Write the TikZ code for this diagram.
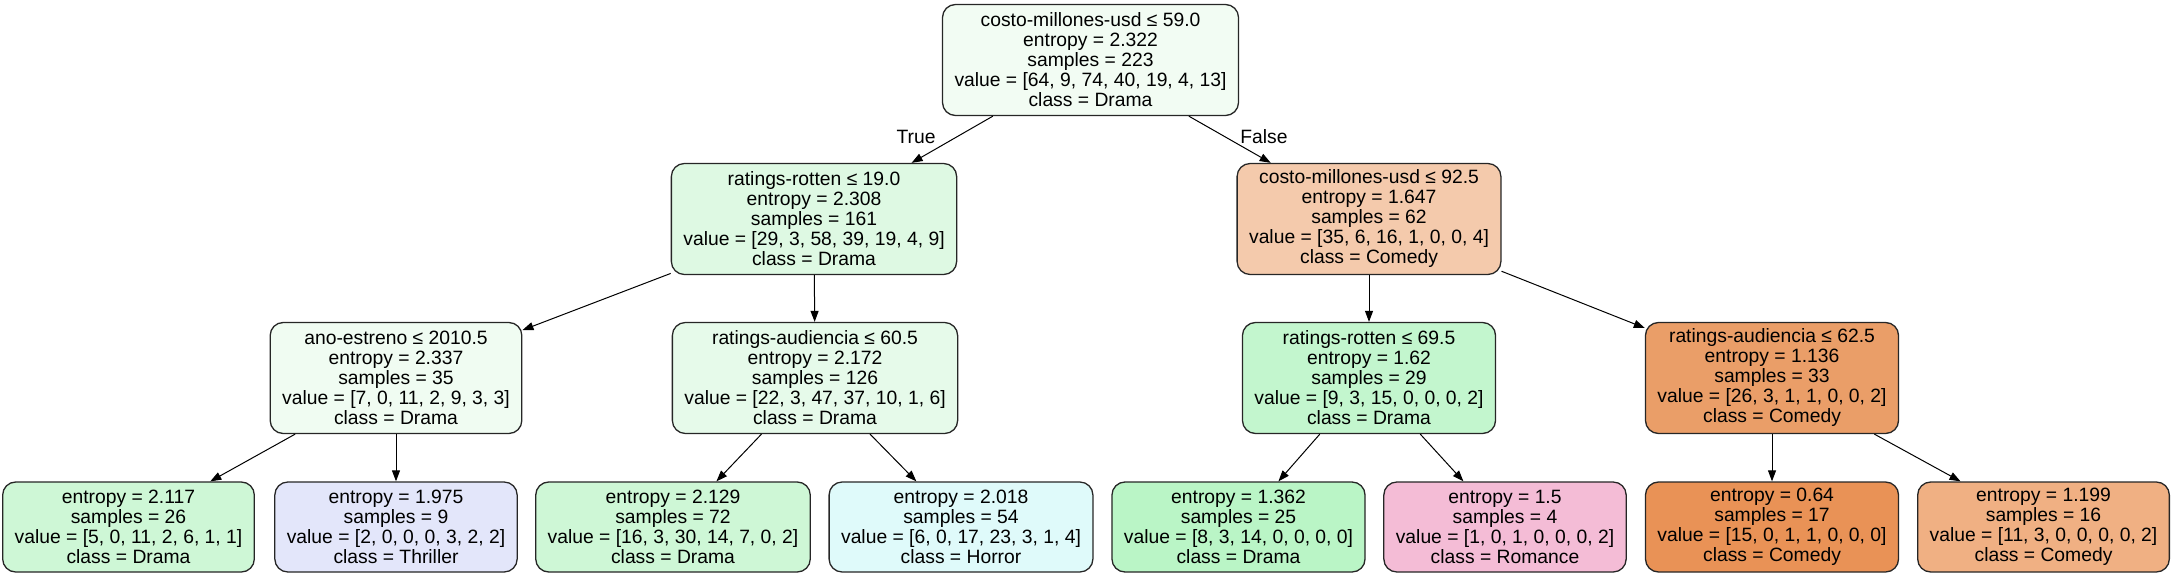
\documentclass[tikz,border=0pt]{standalone}
\usepackage{fontspec}
\setmainfont{Liberation Sans}
\usepackage{xcolor}
\usetikzlibrary{arrows.meta}

\definecolor{rootc}{RGB}{242,252,243}
\definecolor{dramaA}{RGB}{222,249,227}
\definecolor{dramaB}{RGB}{240,252,242}
\definecolor{dramaC}{RGB}{230,250,234}
\definecolor{dramaD}{RGB}{206,247,214}
\definecolor{dramaE}{RGB}{195,246,206}
\definecolor{dramaF}{RGB}{186,245,198}
\definecolor{thrillc}{RGB}{227,230,250}
\definecolor{horrorc}{RGB}{223,250,250}
\definecolor{romc}{RGB}{244,188,214}
\definecolor{comA}{RGB}{244,202,172}
\definecolor{comB}{RGB}{234,158,104}
\definecolor{comC}{RGB}{233,146,86}
\definecolor{comD}{RGB}{240,176,131}

\begin{document}
\begin{tikzpicture}[x=1pt, y=-1pt,
  box/.style={draw=black!85, line width=1.3pt, rounded corners=13pt, align=center,
    font=\fontsize{19.3}{20}\selectfont, inner xsep=12pt, inner ysep=0pt, minimum height=111pt},
  leaf/.style={box, minimum height=90pt},
  lbl/.style={font=\fontsize{19.3}{20}\selectfont, inner sep=0pt},
  arr/.style={-{Triangle[length=11pt, width=8pt]}, line width=1pt}]
\useasboundingbox (0,0) rectangle (2173,577);
% splits
\node[box, fill=rootc] (root) at (1090.5,60) {costo-millones-usd ≤ 59.0\\entropy = 2.322\\samples = 223\\value = [64, 9, 74, 40, 19, 4, 13]\\class = Drama};
\node[box, fill=dramaA] (rt19) at (814,219) {ratings-rotten ≤ 19.0\\entropy = 2.308\\samples = 161\\value = [29, 3, 58, 39, 19, 4, 9]\\class = Drama};
\node[box, fill=comA] (cm92) at (1369,219) {costo-millones-usd ≤ 92.5\\entropy = 1.647\\samples = 62\\value = [35, 6, 16, 1, 0, 0, 4]\\class = Comedy};
\node[box, fill=dramaB] (ae2010) at (396,378) {ano-estreno ≤ 2010.5\\entropy = 2.337\\samples = 35\\value = [7, 0, 11, 2, 9, 3, 3]\\class = Drama};
\node[box, fill=dramaC] (ra60) at (815,378) {ratings-audiencia ≤ 60.5\\entropy = 2.172\\samples = 126\\value = [22, 3, 47, 37, 10, 1, 6]\\class = Drama};
\node[box, fill=dramaE] (rt69) at (1369,378) {ratings-rotten ≤ 69.5\\entropy = 1.62\\samples = 29\\value = [9, 3, 15, 0, 0, 0, 2]\\class = Drama};
\node[box, fill=comB] (ra62) at (1772,378) {ratings-audiencia ≤ 62.5\\entropy = 1.136\\samples = 33\\value = [26, 3, 1, 1, 0, 0, 2]\\class = Comedy};
% leaves
\node[leaf, fill=dramaD] (l1) at (128.5,527) {entropy = 2.117\\samples = 26\\value = [5, 0, 11, 2, 6, 1, 1]\\class = Drama};
\node[leaf, fill=thrillc] (l2) at (396,527) {entropy = 1.975\\samples = 9\\value = [2, 0, 0, 0, 3, 2, 2]\\class = Thriller};
\node[leaf, fill=dramaD] (l3) at (673,527) {entropy = 2.129\\samples = 72\\value = [16, 3, 30, 14, 7, 0, 2]\\class = Drama};
\node[leaf, fill=horrorc] (l4) at (961,527) {entropy = 2.018\\samples = 54\\value = [6, 0, 17, 23, 3, 1, 4]\\class = Horror};
\node[leaf, fill=dramaF] (l5) at (1238.5,527) {entropy = 1.362\\samples = 25\\value = [8, 3, 14, 0, 0, 0, 0]\\class = Drama};
\node[leaf, fill=romc] (l6) at (1505,527) {entropy = 1.5\\samples = 4\\value = [1, 0, 1, 0, 0, 0, 2]\\class = Romance};
\node[leaf, fill=comC] (l7) at (1772,527) {entropy = 0.64\\samples = 17\\value = [15, 0, 1, 1, 0, 0, 0]\\class = Comedy};
\node[leaf, fill=comD] (l8) at (2043.5,527) {entropy = 1.199\\samples = 16\\value = [11, 3, 0, 0, 0, 0, 2]\\class = Comedy};
% edge labels
\node[lbl] (yes) at (916,137) {True};
\node[lbl] (no) at (1264,137) {False};
% edges
\draw[arr] (root) -- (rt19); \draw[arr] (root) -- (cm92);
\draw[arr] (rt19) -- (ae2010); \draw[arr] (rt19) -- (ra60);
\draw[arr] (cm92) -- (rt69); \draw[arr] (cm92) -- (ra62);
\draw[arr] (ae2010) -- (l1); \draw[arr] (ae2010) -- (l2);
\draw[arr] (ra60) -- (l3); \draw[arr] (ra60) -- (l4);
\draw[arr] (rt69) -- (l5); \draw[arr] (rt69) -- (l6);
\draw[arr] (ra62) -- (l7); \draw[arr] (ra62) -- (l8);
\end{tikzpicture}
\end{document}
